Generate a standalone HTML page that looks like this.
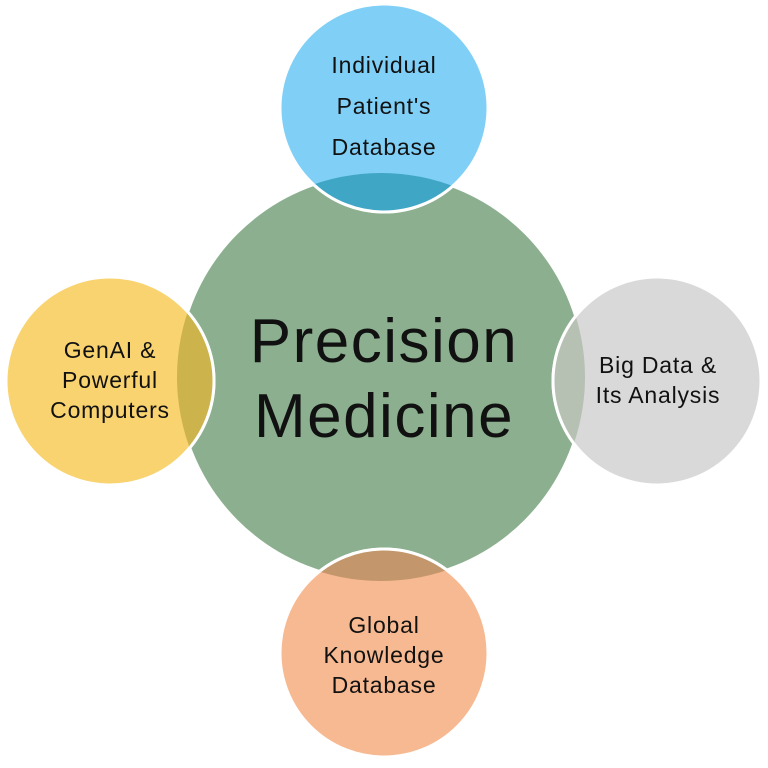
<!DOCTYPE html>
<html><head><meta charset="utf-8"><style>
html,body{margin:0;padding:0;background:#fff;width:768px;height:768px;overflow:hidden}
svg{display:block}
text{font-family:"Liberation Sans",sans-serif;fill:#111;text-anchor:middle}
.s{font-size:23px;letter-spacing:0.8px}
</style></head><body>
<svg width="768" height="768" viewBox="0 0 768 768">
<defs>
<clipPath id="big"><circle cx="381" cy="377" r="204"/></clipPath>
</defs>
<circle cx="381" cy="377" r="204" fill="#8cb08f" stroke="#fff" stroke-width="3"/>
<circle cx="384" cy="108" r="104" fill="#7fcff7" stroke="#fff" stroke-width="3"/>
<circle cx="110" cy="381" r="104" fill="#f8d370" stroke="#fff" stroke-width="3"/>
<circle cx="657" cy="381" r="104" fill="#d9d9d9" stroke="#fff" stroke-width="3"/>
<circle cx="384" cy="653" r="104" fill="#f7b991" stroke="#fff" stroke-width="3"/>
<g clip-path="url(#big)">
<circle cx="384" cy="108" r="104" fill="#3fa6c6" stroke="#fff" stroke-width="3"/>
<circle cx="110" cy="381" r="104" fill="#cdb34c" stroke="#fff" stroke-width="3"/>
<circle cx="657" cy="381" r="104" fill="#b6c1b4" stroke="#fff" stroke-width="3"/>
<circle cx="384" cy="653" r="104" fill="#c3966b" stroke="#fff" stroke-width="3"/>
</g>
<text x="384" y="362" font-size="62" letter-spacing="1.5">Precision</text>
<text x="384" y="437" font-size="62" letter-spacing="1.5">Medicine</text>
<text class="s" x="384" y="73">Individual</text>
<text class="s" x="384" y="114">Patient's</text>
<text class="s" x="384" y="155">Database</text>
<text class="s" x="110" y="358">GenAI &amp;</text>
<text class="s" x="110" y="388">Powerful</text>
<text class="s" x="110" y="418">Computers</text>
<text class="s" x="658" y="373">Big Data &amp;</text>
<text class="s" x="658" y="403">Its Analysis</text>
<text class="s" x="384" y="633">Global</text>
<text class="s" x="384" y="663">Knowledge</text>
<text class="s" x="384" y="693">Database</text>
</svg>
</body></html>
